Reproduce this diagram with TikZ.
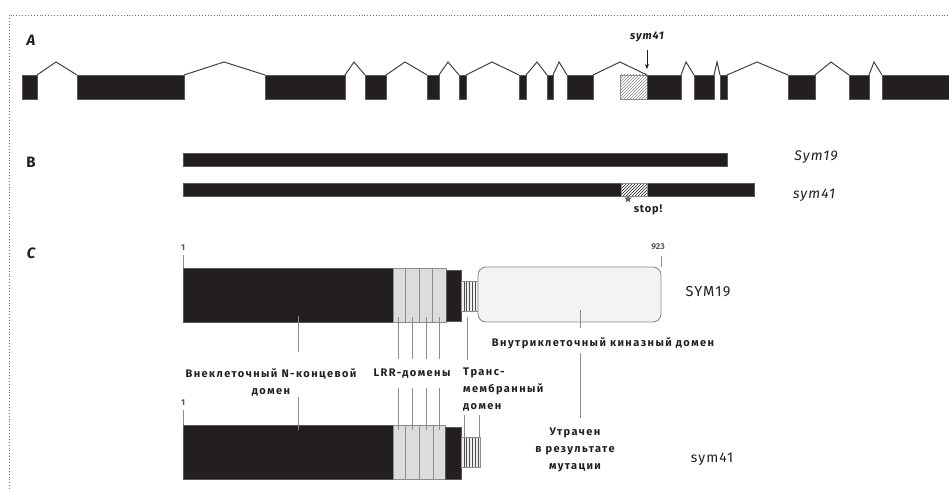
\documentclass[tikz,border=0pt]{standalone}
\usepackage{fontspec}
\setmainfont{Fira Sans}
\newfontfamily\rus[LetterSpace=13]{Fira Sans}
\newfontfamily\lab[LetterSpace=8]{Fira Sans}
\usetikzlibrary{patterns,shapes.geometric,arrows.meta}
\definecolor{blk}{HTML}{231F20}
\definecolor{lrr}{HTML}{DCDCDC}
\definecolor{edg}{HTML}{8C8C8C}
\definecolor{knz}{HTML}{F3F3F3}
\newcommand{\bx}[6]{\node[#2,anchor=north west,minimum width={(#5)-(#3)},minimum height={(#6)-(#4)}] (#1) at (#3,#4) {};}
\begin{document}
\begin{tikzpicture}[x=1pt,y=-1pt,
  base/.style={inner sep=0pt,outer sep=0pt,line width=0.6pt},
  dark/.style={base,fill=blk,draw=blk!75!white},
  hatchg/.style={base,draw=edg,preaction={fill=white},pattern=north east lines,pattern color=edg},
  hatchw/.style={base,draw=edg,preaction={fill=white},pattern=north east lines,pattern color=blk},
  lrrseg/.style={base,fill=lrr,draw=edg},
  tmseg/.style={base,fill=gray!12,draw=edg,path picture={
     \foreach \k in {1,...,6} \draw[blk!80,line width=0.6pt] ([xshift=\k*2.8pt]path picture bounding box.south west) -- ([xshift=\k*2.8pt]path picture bounding box.north west);}},
  kin/.style={base,fill=knz,draw=edg,rounded corners=8pt,line width=0.9pt},
  intron/.style={draw=blk!85,line width=1pt},
  conn/.style={draw=edg,line width=0.9pt},
  rl/.style={font=\rus\bfseries\fontsize{11}{17}\selectfont,text=blk,inner sep=0pt},
  il/.style={font=\lab\itshape\fontsize{14}{14}\selectfont,text=blk,inner sep=0pt},
  ul/.style={font=\lab\fontsize{14}{14}\selectfont,text=blk,inner sep=0pt},
  num/.style={font=\bfseries\fontsize{8.5}{8.5}\selectfont,text=blk!75,inner sep=0pt},
  sec/.style={font=\bfseries\fontsize{15}{15}\selectfont,text=blk,inner sep=0pt},
]
\useasboundingbox (0,0) rectangle (949,489);
\fill[white] (0,0) rectangle (949,489);
\draw[dotted,edg!80!black,line width=0.9pt] (9,489) -- (9,15) -- (949,15);

% section labels
\node[sec,font=\bfseries\itshape\fontsize{15}{15}\selectfont] (lA) at (31,40) {A};
\node[sec] (lB) at (31,162) {B};
\node[sec,font=\bfseries\itshape\fontsize{15}{15}\selectfont] (lC) at (31,253) {C};

% ---- A: gene ----
\bx{h1}{hatchg}{620}{75}{647}{99}
\bx{e1}{dark}{22}{75}{37}{99}
\bx{e2}{dark}{77}{75}{184}{99}
\bx{e3}{dark}{265}{75}{345}{99}
\bx{e4}{dark}{365}{75}{386}{99}
\bx{e5}{dark}{427}{75}{439}{99}
\bx{e6}{dark}{459}{75}{466}{99}
\bx{e7}{dark}{519}{75}{526}{99}
\bx{e8}{dark}{547}{75}{553}{99}
\bx{e9}{dark}{567}{75}{593}{99}
\bx{e10}{dark}{647}{75}{681}{99}
\bx{e11}{dark}{694}{75}{714}{99}
\bx{e12}{dark}{720}{75}{727}{99}
\bx{e13}{dark}{788}{75}{815}{99}
\bx{e14}{dark}{849}{75}{869}{99}
\bx{e15}{dark}{882}{75}{949}{99}
\foreach \a/\b/\p in {1/2/56,2/3/224,3/4/354,4/5/405,5/6/448,6/7/492,7/8/537,8/9/559,9/10/620,10/11/686,11/12/717,12/13/757,13/14/831,14/15/874}
  \draw[intron] (e\a.north east) -- (\p,62) -- (e\b.north west);
\node[il,font=\lab\bfseries\itshape\fontsize{11}{11}\selectfont] (m41) at (647,37) {sym41};
\draw[-{Stealth[length=5pt,width=4pt]},line width=0.8pt,blk] ([yshift=-8pt]m41.south) -- ([yshift=6pt]e10.north west);

% ---- B: transcripts ----
\bx{b1}{dark}{183}{153}{727}{166}
\bx{b2}{dark}{183}{183}{754}{196}
\bx{bh}{hatchw}{621}{183}{647}{196}
\node[star,star points=5,star point ratio=2.2,fill=blk!70,minimum size=8pt,inner sep=0pt] (st) at (628,199) {};
\node[ul,font=\lab\bfseries\fontsize{11}{11}\selectfont] (stop) at (648,210) {stop!};
\node[il] (s19) at (816,157) {Sym19};
\node[il] (s41) at (814,195) {sym41};

% ---- C: proteins ----
% SYM19
\bx{t1}{dark}{183}{268}{393}{322}
\bx{t2a}{lrrseg}{393}{268}{405}{322}
\bx{t2b}{lrrseg}{405}{268}{419}{322}
\bx{t2c}{lrrseg}{419}{268}{432}{322}
\bx{t2d}{lrrseg}{432}{268}{446}{322}
\bx{t3}{dark}{446}{270}{461}{321}
\bx{t4}{tmseg}{461}{281}{480}{311}
\bx{t5}{kin}{478}{267}{661}{322}
\node[num] (one1) at (183,248) {1};
\draw[conn] ([yshift=-4pt]one1.south) -- (t1.north west);
\node[num] (n923) at (658,247) {923};
\draw[conn] (t5.north east) -- (t5.north east |- 0,256);
\node[ul,font=\lab\fontsize{14.5}{14.5}\selectfont] (S19) at (708,292) {SYM19};

% sym41
\bx{u1}{dark}{183}{425}{393}{479}
\bx{u2a}{lrrseg}{393}{425}{405}{479}
\bx{u2b}{lrrseg}{405}{425}{419}{479}
\bx{u2c}{lrrseg}{419}{425}{433}{479}
\bx{u2d}{lrrseg}{433}{425}{445}{479}
\bx{u3}{dark}{445}{427}{461}{479}
\bx{u4}{tmseg}{461}{437}{480}{467}
\node[num] (one2) at (183,403) {1};
\draw[conn] ([yshift=-4pt]one2.south) -- (u1.north west);
\node[ul] (s41b) at (712,459) {sym41};

% labels
\node[rl,align=center] (Lext) at (271,382) {Внеклеточный N-концевой\\домен};
\node[rl] (Llrr) at (412,374) {LRR-домены};
\node[rl,align=left,anchor=north west] (Ltm) at (463,368) {Транс-\\мембранный\\домен};
\node[rl] (Lkin) at (603,343) {Внутриклеточный киназный домен};
\node[rl,align=center] (Llost) at (575,450) {Утрачен\\в результате\\мутации};

% connectors
\coordinate (x1) at (298,316); \coordinate (x2) at (298,352);
\coordinate (x3) at (298,397); \coordinate (x4) at (298,430);
\draw[conn] (x1) -- (x2);
\draw[conn] (x3) -- (x4);
\foreach \x in {398,412,426,439} {
  \draw[conn] (\x,317) -- (\x,359);
  \draw[conn] (\x,388) -- (\x,430);
}
\coordinate (tmA) at (467,317); \coordinate (tmB) at (467,360);
\draw[conn] (tmA) -- (tmB);
\coordinate (tmC) at (464,415); \coordinate (tmD) at (479,415);
\draw[conn] (tmC) -- (tmC |- u4.north);
\draw[conn] (tmD) -- (tmD |- u4.north);
\coordinate (kA) at (580,310); \coordinate (kB) at (580,328);
\coordinate (kC) at (580,353); \coordinate (kD) at (580,418);
\draw[conn] (kA) -- (kB);
\draw[conn] (kC) -- (kD);
\end{tikzpicture}
\end{document}
